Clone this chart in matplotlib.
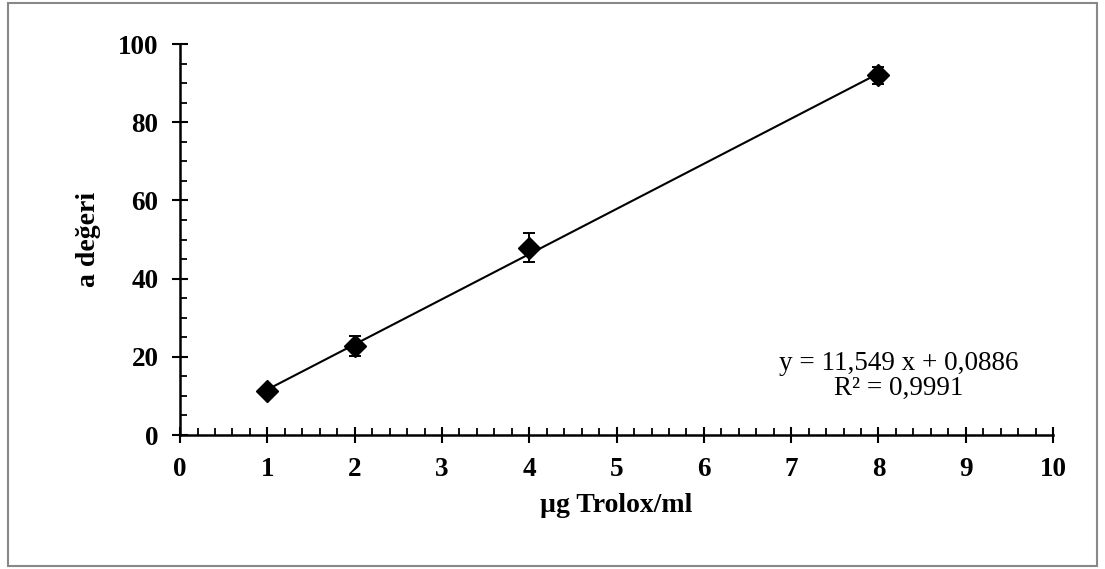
import matplotlib.pyplot as plt
import numpy as np
from matplotlib.ticker import MultipleLocator
from matplotlib.patches import Rectangle

plt.rcParams['font.family'] = ['Liberation Serif', 'DejaVu Serif']

conc = np.array([1, 2, 4, 8])
a_val = np.array([11.2, 22.8, 47.9, 92.0])
a_err = np.array([1.0, 2.6, 3.7, 2.2])
slope, intercept = 11.549, 0.0886

fig = plt.figure(figsize=(11.05, 5.69), dpi=100)
ax = fig.add_axes([0.163, 0.2355, 0.79, 0.687])

xfit = np.array([conc.min(), conc.max()])
ax.plot(xfit, slope * xfit + intercept, color='black', linewidth=1.5, zorder=2)
ax.errorbar(conc, a_val, yerr=a_err, fmt='D', color='black', markersize=11.5,
            ecolor='black', elinewidth=1.4, capsize=4.3, capthick=1.4, zorder=3)

ax.set(xlim=(0, 10), ylim=(0, 100))
ax.xaxis.set_major_locator(MultipleLocator(1))
ax.xaxis.set_minor_locator(MultipleLocator(0.2))
ax.yaxis.set_major_locator(MultipleLocator(20))
ax.yaxis.set_minor_locator(MultipleLocator(5))
ax.tick_params(which='major', direction='inout', length=11, width=1.5,
               labelsize=19.5, pad=10)
ax.tick_params(which='minor', direction='in', length=5, width=1.3)
for lab in ax.get_xticklabels() + ax.get_yticklabels():
    lab.set_fontweight('bold')

for s in ['top', 'right']:
    ax.spines[s].set_visible(False)
for s in ['left', 'bottom']:
    ax.spines[s].set_linewidth(1.8)

ax.set_xlabel('µg Trolox/ml', fontsize=20, fontweight='bold', labelpad=8)
ax.set_ylabel('a değeri', fontsize=20, fontweight='bold', labelpad=12)

ax.text(8.23, 15.1, 'y = 11,549 x + 0,0886\nR² = 0,9991', fontsize=19.5,
        ha='center', va='center', linespacing=1.0)

fig.patches.append(Rectangle((0.007, 0.005), 0.986, 0.99, transform=fig.transFigure,
                             fill=False, edgecolor='#888888', linewidth=1.5))

fig.savefig('out.png', dpi=100)
